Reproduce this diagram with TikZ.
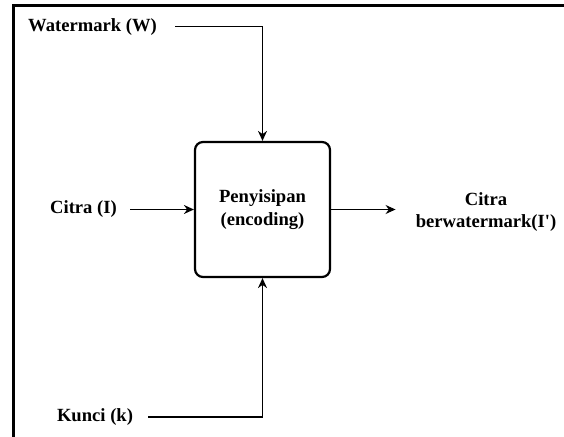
\documentclass[tikz,border=0pt]{standalone}
\usepackage{fontspec}
\setmainfont{Liberation Serif}
\usetikzlibrary{arrows.meta,positioning}

\begin{document}
\begin{tikzpicture}[x=1pt,y=1pt,>={Stealth[length=10pt,width=9pt]},
  lbl/.style={inner sep=0pt,font=\bfseries\fontsize{18.6}{22.3}\selectfont},
  encbox/.style={draw,line width=2.2pt,rounded corners=8pt,minimum width=135pt,minimum height=135pt,align=center,font=\bfseries\fontsize{18.6}{22.3}\selectfont},
  conn/.style={line width=1.2pt}]
  \useasboundingbox (0,0) rectangle (564,436);
  \draw[line width=3pt] (13.5,-5) -- (13.5,430.7) -- (570,430.7);
  \node[encbox] (enc) at (262.5,226.5) {Penyisipan\\(encoding)};
  \node[lbl] (wm) at (92.5,409.3) {Watermark (W)};
  \node[lbl] (img) at (83.5,226.5) {Citra (I)};
  \node[lbl] (key) at (95,19) {Kunci (k)};
  \node[lbl,align=center] (out) at (486,224) {Citra\\berwatermark(I\textquotesingle)};
  \draw[conn,->] ([xshift=18pt]wm.east) -| (enc.north);
  \draw[conn,->] ([xshift=13pt]img.east) -- (enc.west);
  \draw[conn,->] ([xshift=15pt]key.east) -| (enc.south);
  \draw[conn,->,shorten >=20pt] (enc.east) -- (enc.east -| out.west);
\end{tikzpicture}
\end{document}
